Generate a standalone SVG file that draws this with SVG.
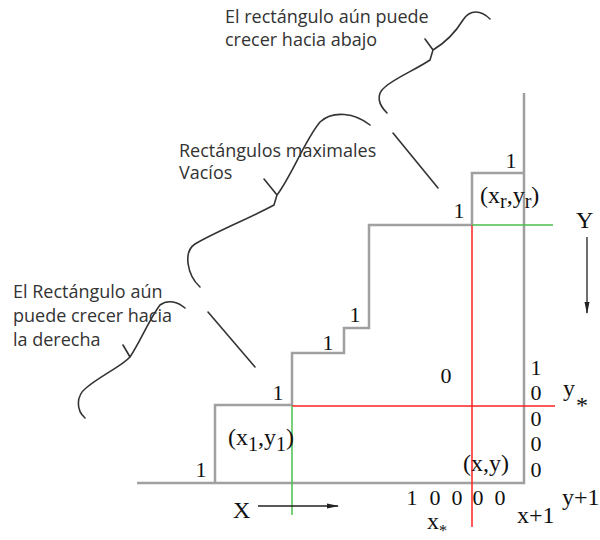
<svg xmlns="http://www.w3.org/2000/svg" width="600" height="540" viewBox="0 0 600 540">
<style>
.grey{fill:none;stroke:#a0a0a0;stroke-width:2.5}
.red{stroke:#ff2020;stroke-width:1.5;fill:none}
.green{stroke:#4cbf4c;stroke-width:1.5;fill:none}
.wave{fill:none;stroke:#333;stroke-width:1.6;stroke-linecap:round}
.note{font-family:"Open Sans","Liberation Sans",sans-serif;font-size:18px;fill:#333}
.ser{font-family:"Liberation Serif","Times New Roman",serif;font-size:22px;fill:#111}
.lab{font-family:"Liberation Serif","Times New Roman",serif;font-size:24px;fill:#111}
.arr{stroke:#222;stroke-width:1.3;fill:none}
</style>
<defs>
<marker id="ah" markerWidth="12" markerHeight="6" refX="11" refY="3" orient="auto" markerUnits="userSpaceOnUse">
<path d="M0,0.5 L12,3 L0,5.5 Z" fill="#222"/>
</marker>
</defs>
<g id="connectors">
<path class="grey" d="M137,483 H524 V93"/>
<path class="grey" d="M215,483 V405 H292 V353 H344 V328 H369 V225 H472 V173 H524"/>
<line class="red" x1="292" y1="406" x2="555" y2="406"/>
<line class="red" x1="472" y1="225" x2="472" y2="527"/>
<line class="green" x1="472" y1="225" x2="553" y2="225"/>
<line class="green" x1="292" y1="406" x2="292" y2="515"/>
<line class="arr" x1="587" y1="237" x2="587" y2="313" marker-end="url(#ah)"/>
<line class="arr" x1="258" y1="506" x2="338" y2="506" marker-end="url(#ah)"/>
<path class="wave" d="M490,19 C481,10 470,9 463,20 C455,33 443,44 433,50 M425,39 L433,50 L430,60 C415,70 395,78 385,87 C375,95 379,105 387,113"/>
<line class="wave" x1="393" y1="133" x2="438" y2="188"/>
<path class="wave" d="M370,125 C355,113 333,110 320,122 C305,140 292,175 277,195 M264,179 L277,195 L274,205 C250,218 215,232 195,244 C183,252 187,275 200,287"/>
<line class="wave" x1="208" y1="312" x2="255" y2="367"/>
<path class="wave" d="M185,308 C178,302 168,299 160,305 C150,318 140,342 130,357 M123,345 L130,357 C122,366 100,376 86,388 C76,396 76,410 85,418"/>
</g>
<g id="notes">
<text class="note" x="225" y="23">El rectángulo aún puede</text>
<text class="note" x="225" y="46">crecer hacia abajo</text>
<text class="note" x="179" y="157">Rectángulos maximales</text>
<text class="note" x="179" y="179">Vacíos</text>
<text class="note" x="13" y="298">El Rectángulo aún</text>
<text class="note" x="13" y="322">puede crecer hacia</text>
<text class="note" x="13" y="346">la derecha</text>
</g>
<g id="stair-labels" text-anchor="middle">
<text class="ser" x="201" y="477">1</text>
<text class="ser" x="278" y="400">1</text>
<text class="ser" x="328" y="350">1</text>
<text class="ser" x="355" y="322">1</text>
<text class="ser" x="459" y="218">1</text>
<text class="ser" x="511" y="168">1</text>
<text class="ser" x="446" y="383">0</text>
</g>
<g id="right-column" text-anchor="middle">
<text class="ser" x="536" y="375">1</text>
<text class="ser" x="536" y="400">0</text>
<text class="ser" x="536" y="426">0</text>
<text class="ser" x="536" y="451">0</text>
<text class="ser" x="536" y="477">0</text>
</g>
<g id="bottom-row" text-anchor="middle">
<text class="ser" x="412" y="505">1</text>
<text class="ser" x="435" y="505">0</text>
<text class="ser" x="457" y="505">0</text>
<text class="ser" x="478" y="505">0</text>
<text class="ser" x="500" y="505">0</text>
</g>
<g id="point-labels">
<text class="lab" x="480" y="203">(x<tspan font-size="20" dy="5">r</tspan><tspan dy="-5">,y</tspan><tspan font-size="20" dy="5">r</tspan><tspan dy="-5">)</tspan></text>
<text class="lab" x="228" y="445">(x<tspan font-size="20" dy="6">1</tspan><tspan dy="-6">,y</tspan><tspan font-size="20" dy="6">1</tspan><tspan dy="-6">)</tspan></text>
<text class="lab" x="463" y="471">(x,y)</text>
<text class="lab" x="576" y="228">Y</text>
<text class="lab" x="233" y="518">X</text>
<text class="lab" x="563" y="396">y</text>
<text class="lab" x="576" y="413" font-size="20">*</text>
<text class="lab" x="427" y="529" font-size="20">x<tspan font-size="16" dy="7">*</tspan></text>
<text class="lab" x="517" y="523">x+1</text>
<text class="lab" x="562" y="505">y+1</text>
</g>
</svg>
